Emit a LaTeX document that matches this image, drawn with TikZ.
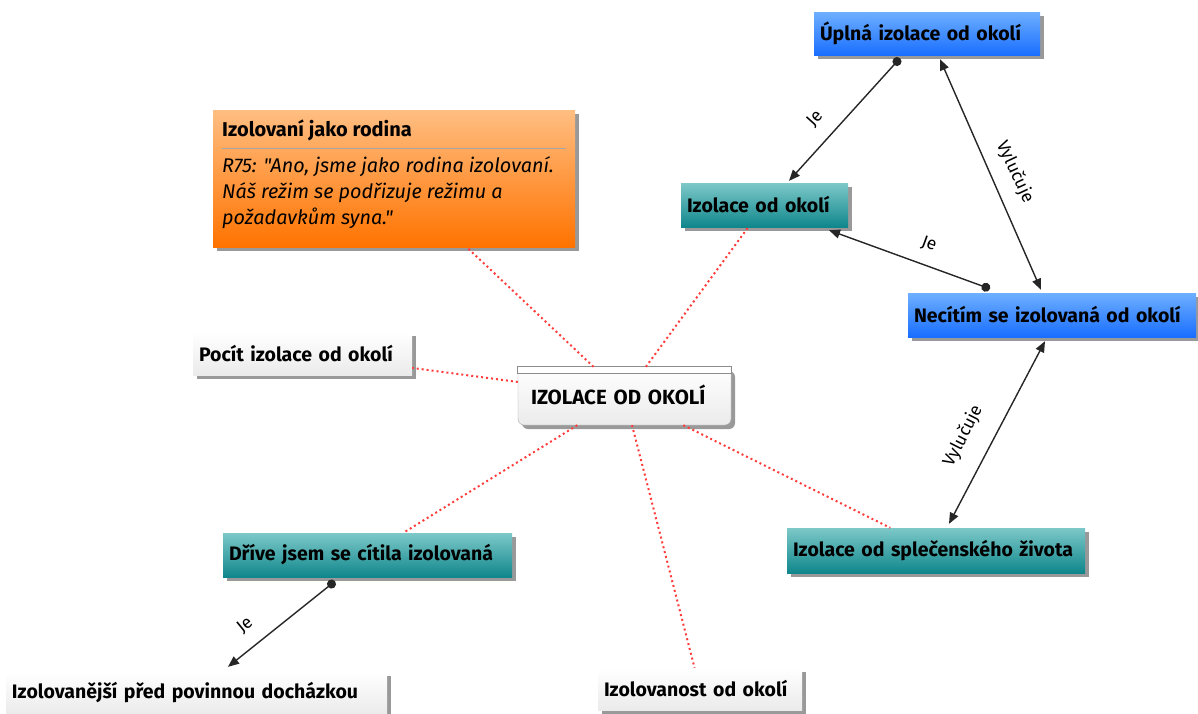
\documentclass[tikz,border=0pt]{standalone}
\usepackage{fontspec}
\setmainfont{Fira Sans}
\newfontfamily\notefont{Fira Sans}[Ligatures=TeXOff]
\usetikzlibrary{arrows.meta,shadows}
\definecolor{blueT}{RGB}{110,175,255}
\definecolor{blueB}{RGB}{25,110,255}
\definecolor{tealT}{RGB}{125,200,200}
\definecolor{tealB}{RGB}{15,135,140}
\definecolor{orangeT}{RGB}{255,190,130}
\definecolor{orangeB}{RGB}{255,115,0}
\definecolor{linkred}{RGB}{255,60,60}
\begin{document}
\begin{tikzpicture}[x=1pt,y=-1pt,
  box/.style={rectangle, inner xsep=6pt, inner ysep=0pt, align=left,
    font=\bfseries\fontsize{19.5}{23}\selectfont,
    drop shadow={shadow xshift=4pt, shadow yshift=-4pt, opacity=0.4, fill=black}},
  bluebox/.style={box, top color=blueT, bottom color=blueB},
  tealbox/.style={box, top color=tealT, bottom color=tealB},
  plainbox/.style={box, top color=white, bottom color=black!8},
  link/.style={draw=linkred, line width=2pt, dash pattern=on 2pt off 3pt},
  rel/.style={draw=black!85, line width=1.4pt},
  dottip/.style={{Circle[length=9pt]}-{Triangle[length=11pt,width=9pt]}},
  bothtip/.style={{Triangle[length=11pt,width=9pt]}-{Triangle[length=11pt,width=9pt]}},
  rellabel/.style={font=\fontsize{17.5}{19}\selectfont, inner sep=0pt}
]
\useasboundingbox (0,0) rectangle (1198,713);

% concept boxes
\node[bluebox, text width=214pt, minimum height=43pt] (full) at (927,33.5) {Úplná izolace od okolí};
\node[tealbox, text width=155pt, minimum height=44pt] (izo) at (764.5,205) {Izolace od okolí};
\node[bluebox, text width=276pt, minimum height=44pt] (necitim) at (1052,315) {Necítím se izolovaná od okolí};
\node[tealbox, text width=286pt, minimum height=45pt] (spol) at (936,550.5) {Izolace od splečenského života};
\node[plainbox, text width=192pt, minimum height=42pt] (izolovanost) at (700,689) {Izolovanost od okolí};
\node[plainbox, text width=369pt, minimum height=42pt] (pred) at (196.5,693) {Izolovanější před povinnou docházkou};
\node[tealbox, text width=277pt, minimum height=44pt] (drive) at (367.5,555) {Dříve jsem se cítila izolovaná};
\node[plainbox, text width=207pt, minimum height=43pt] (pocit) at (302.5,353.5) {Pocít izolace od okolí};

% central topic with its title strip
\node[plainbox, draw=black!35, rounded corners=6pt, inner xsep=13pt, text width=187pt, minimum height=58pt,
      font=\bfseries\fontsize{20.5}{24}\selectfont] (hub) at (624.5,396) {\raisebox{3pt}{IZOLACE OD OKOLÍ}};
\draw[fill=white, draw=black!45, line width=0.8pt] (hub.north west) rectangle ([yshift=-7pt]hub.north east);

% quotation note
\node[box, top color=orangeT, bottom color=orangeB, minimum width=362pt, minimum height=137pt] (quote) at (394,178.5) {};
\node[anchor=west, inner sep=0pt, font=\bfseries\fontsize{20}{24}\selectfont] (quotetitle) at (222,130) {Izolovaní jako rodina};
\draw[draw=black!35, line width=1pt] ([xshift=9pt]quote.west |- 0,148) coordinate (sepl) -- ([xshift=-9pt]quote.east |- 0,148) coordinate (sepr);
\node[anchor=north west, inner sep=0pt, align=left, font=\notefont\itshape\fontsize{19.8}{26}\selectfont] (quotebody) at (222,156)
  {R75: "Ano, jsme jako rodina izolovaní.\\Náš režim se podřizuje režimu a\\požadavkům syna."};

% associations to the central topic
\draw[link] (hub) -- (quote);
\draw[link] (hub) -- (izo);
\draw[link] (hub) -- (pocit);
\draw[link] (hub) -- (drive);
\draw[link] (hub) -- (izolovanost);
\draw[link] (hub) -- (spol);

% labelled relations
\draw[rel, dottip] ([xshift=-27pt,yshift=-3pt]full.south) -- ([xshift=24.5pt,yshift=2pt]izo.north);
\draw[rel, bothtip] ([xshift=13pt,yshift=-4pt]full.south) -- ([xshift=-11pt,yshift=3pt]necitim.north);
\draw[rel, dottip] ([xshift=-62pt,yshift=4pt]necitim.north) -- ([xshift=64.5pt,yshift=-3pt]izo.south);
\draw[rel, bothtip] ([xshift=-7pt,yshift=-4pt]necitim.south) -- ([xshift=13pt,yshift=4pt]spol.north);
\draw[rel, dottip] ([xshift=-32.5pt,yshift=-4pt]drive.south) -- ([xshift=31.5pt,yshift=5pt]pred.north);

\node[rellabel, rotate=48] (je1) at (815,119) {Je};
\node[rellabel, rotate=-65] (vyl1) at (1015,172) {Vylučuje};
\node[rellabel, rotate=-20] (je2) at (929,244) {Je};
\node[rellabel, rotate=63] (vyl2) at (963,436) {Vylučuje};
\node[rellabel, rotate=39] (je3) at (245,625) {Je};
\end{tikzpicture}
\end{document}
